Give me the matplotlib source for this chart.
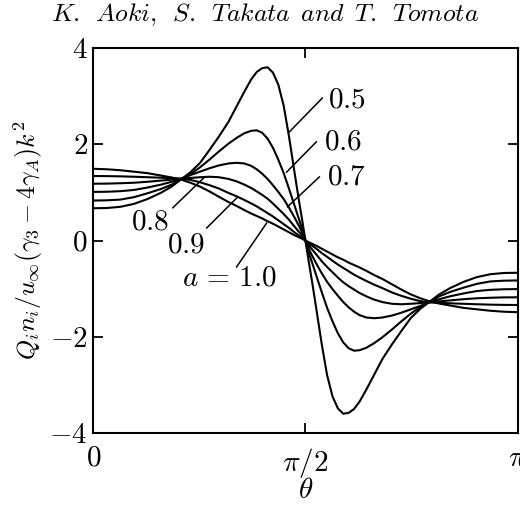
import numpy as np
import matplotlib
matplotlib.use("Agg")
import matplotlib.pyplot as plt

plt.rcParams['mathtext.fontset'] = 'cm'
plt.rcParams['font.family'] = 'serif'
plt.rcParams['font.serif'] = ['cmr10', 'DejaVu Serif']
plt.rcParams['axes.unicode_minus'] = False

# theta (rad) from 0 to pi
theta = [0, 0.1, 0.2, 0.3, 0.4, 0.5, 0.58, 0.657, 0.72, 0.79, 0.86, 0.93, 1.0,
         1.06, 1.12, 1.17, 1.21, 1.25, 1.29, 1.33, 1.37, 1.41, 1.45, 1.49, 1.52, 1.55,
         1.5708,
         1.5916, 1.6216, 1.6516, 1.6916, 1.7316, 1.7716, 1.8116, 1.8516, 1.8916, 1.9316,
         1.9716, 2.0216, 2.0816, 2.1416, 2.2116, 2.2816, 2.3516, 2.4216, 2.4846, 2.5616,
         2.6416, 2.7416, 2.8416, 2.9416, 3.0416, 3.1416]

# Q_i n_i / u_inf (gamma3 - 4 gamma_A) k^2
q_a05 = [0.67, 0.675, 0.70, 0.76, 0.86, 0.99, 1.12, 1.285, 1.42, 1.61, 1.88, 2.16, 2.46,
         2.78, 3.10, 3.35, 3.50, 3.58, 3.60, 3.49, 3.24, 2.80, 2.15, 1.42, 0.88, 0.37,
         0,
         -0.37, -0.88, -1.42, -2.15, -2.80, -3.24, -3.49, -3.60, -3.58, -3.50,
         -3.35, -3.10, -2.78, -2.46, -2.16, -1.88, -1.61, -1.42, -1.285, -1.12,
         -0.99, -0.86, -0.76, -0.70, -0.675, -0.67]
q_a06 = [0.83, 0.835, 0.85, 0.90, 0.98, 1.07, 1.16, 1.285, 1.38, 1.52, 1.68, 1.85, 2.01,
         2.13, 2.23, 2.28, 2.29, 2.24, 2.12, 1.93, 1.68, 1.40, 1.07, 0.73, 0.47, 0.22,
         0,
         -0.22, -0.47, -0.73, -1.07, -1.40, -1.68, -1.93, -2.12, -2.24, -2.29,
         -2.28, -2.23, -2.13, -2.01, -1.85, -1.68, -1.52, -1.38, -1.285, -1.16,
         -1.07, -0.98, -0.90, -0.85, -0.835, -0.83]
q_a07 = [1.01, 1.013, 1.025, 1.05, 1.10, 1.16, 1.22, 1.285, 1.36, 1.43, 1.50, 1.56, 1.60,
         1.615, 1.60, 1.55, 1.48, 1.39, 1.28, 1.15, 1.01, 0.86, 0.68, 0.48, 0.32, 0.15,
         0,
         -0.15, -0.32, -0.48, -0.68, -0.86, -1.01, -1.15, -1.28, -1.39, -1.48,
         -1.55, -1.60, -1.615, -1.60, -1.56, -1.50, -1.43, -1.36, -1.285, -1.22,
         -1.16, -1.10, -1.05, -1.025, -1.013, -1.01]
q_a08 = [1.18, 1.182, 1.19, 1.20, 1.22, 1.245, 1.265, 1.285, 1.30, 1.315, 1.325, 1.315, 1.28,
         1.23, 1.16, 1.09, 1.02, 0.95, 0.87, 0.77, 0.66, 0.55, 0.43, 0.29, 0.19, 0.09,
         0,
         -0.09, -0.19, -0.29, -0.43, -0.55, -0.66, -0.77, -0.87, -0.95, -1.02,
         -1.09, -1.16, -1.23, -1.28, -1.315, -1.325, -1.315, -1.30, -1.285, -1.265,
         -1.245, -1.22, -1.20, -1.19, -1.182, -1.18]
q_a09 = [1.34, 1.338, 1.333, 1.325, 1.315, 1.305, 1.295, 1.285, 1.26, 1.21, 1.15, 1.08, 0.99,
         0.92, 0.84, 0.77, 0.71, 0.64, 0.57, 0.50, 0.42, 0.34, 0.26, 0.17, 0.11, 0.05,
         0,
         -0.05, -0.11, -0.17, -0.26, -0.34, -0.42, -0.50, -0.57, -0.64, -0.71,
         -0.77, -0.84, -0.92, -0.99, -1.08, -1.15, -1.21, -1.26, -1.285, -1.295,
         -1.305, -1.315, -1.325, -1.333, -1.338, -1.34]
q_a10 = [1.49, 1.48, 1.46, 1.43, 1.40, 1.35, 1.31, 1.26, 1.20, 1.12, 1.02, 0.91, 0.80,
         0.72, 0.63, 0.56, 0.51, 0.46, 0.40, 0.35, 0.29, 0.23, 0.17, 0.11, 0.07, 0.03,
         0,
         -0.03, -0.07, -0.11, -0.17, -0.23, -0.29, -0.35, -0.40, -0.46, -0.51,
         -0.56, -0.63, -0.72, -0.80, -0.91, -1.02, -1.12, -1.20, -1.26, -1.31,
         -1.35, -1.40, -1.43, -1.46, -1.48, -1.49]

curves = [q_a05, q_a06, q_a07, q_a08, q_a09, q_a10]

# curve labels with their pointer lines
labels = [r'$0.5$', r'$0.6$', r'$0.7$', r'$0.8$', r'$0.9$', r'$a\,=\,1.0$']
label_xy = [(1.74, 2.92), (1.71, 2.03), (1.73, 1.32), (0.42, 0.38), (0.69, -0.09), (1.01, -0.78)]
label_ha = ['left', 'left', 'left', 'center', 'center', 'center']
ptr_from = [(1.696, 2.96), (1.652, 2.05), (1.674, 1.32), (0.589, 0.68), (0.840, 0.26), (1.061, -0.55)]
ptr_to = [(1.453, 2.26), (1.431, 1.42), (1.438, 0.70), (0.825, 1.32), (1.068, 0.90), (1.283, 0.36)]

fig = plt.figure(figsize=(5.2, 5.05), dpi=100)
ax = fig.add_axes([93.3 / 520, 1 - 433 / 505, (517.5 - 93.3) / 520, (433 - 48) / 505])

for q in curves:
    ax.plot(theta, q, color='black', lw=1.5)

for txt, (tx, ty), ha, p0, p1 in zip(labels, label_xy, label_ha, ptr_from, ptr_to):
    ax.plot([p0[0], p1[0]], [p0[1], p1[1]], color='black', lw=1.1)
    ax.text(tx, ty, txt, fontsize=21, ha=ha, va='center')

ax.set_xlim(0, np.pi)
ax.set_ylim(-4, 4)
ax.set_xticks([0, np.pi / 2, np.pi])
ax.set_xticklabels([r'$0$', r'$\pi/2$', r'$\pi$'])
ax.set_yticks([-4, -2, 0, 2, 4])
ax.set_yticklabels([r'$-4$', r'$-2$', r'$0$', r'$2$', r'$4$'])
ax.tick_params(direction='in', length=7, width=1.3, labelsize=21, top=True, right=True)
ax.tick_params(axis='x', pad=9)
ax.tick_params(axis='y', pad=4)
for s in ax.spines.values():
    s.set_linewidth(1.5)

ax.set_xlabel(r'$\theta$', fontsize=21, labelpad=-1)
ax.set_ylabel(r'$Q_i n_i / u_\infty(\gamma_3 - 4\gamma_A)k^2$', fontsize=18.5, labelpad=3)

fig.text(0.51, 0.97, r'$\mathit{K.\ \,Aoki,\ \,S.\ \,Takata\ \,and\ \,T.\ \,Tomota}$',
         fontsize=18.5, ha='center', va='center')

plt.savefig('out.png', dpi=100)
